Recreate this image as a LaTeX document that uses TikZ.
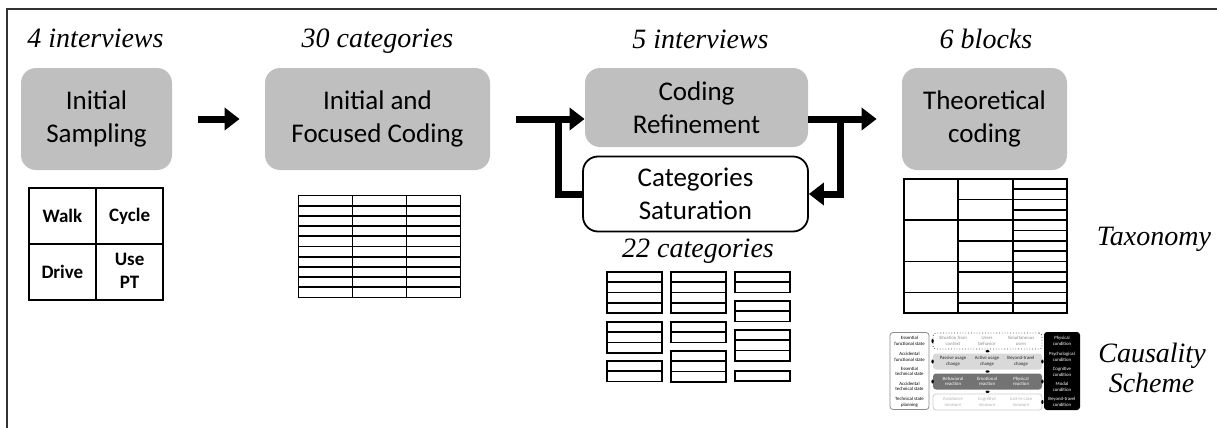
\documentclass[tikz,border=0pt]{standalone}
\usepackage{fontspec}
\setmainfont{Carlito}
\newfontfamily\serifcap{Liberation Serif}
\usepackage{tikz}
\usetikzlibrary{matrix,arrows.meta,calc,positioning}
\tikzset{% looks of the process picture
	stage/.style={fill=black!25,rounded corners=7.5pt,minimum width=#1,minimum height=51pt,inner sep=0pt,align=center,font=\fontsize{13.5}{16.5}\selectfont},
	loopbox/.style={draw,line width=0.9pt,rounded corners=7.5pt,minimum width=112.5pt,minimum height=37.5pt,inner sep=0pt,align=center,font=\fontsize{13.5}{16.5}\selectfont},
	caption/.style={anchor=base,inner sep=0pt,font=\serifcap\itshape\fontsize{14}{16.5}\selectfont},
	fat/.style={line width=3.5pt},
	fatarrow/.style={fat,-{Triangle[length=7.5pt,width=11pt]}},
	rule/.style={line width=0.85pt},
	tiny/.style={inner sep=0pt,align=center,font=\fontsize{2.4}{2.8}\selectfont},
	band/.style={rounded corners=1.5pt,minimum width=54.5pt,minimum height=8pt,inner sep=0pt},
	knob/.style={fill=black}
}

\begin{document}
\begin{tikzpicture}[x=0.5pt,y=-0.5pt]
\useasboundingbox (0,0) rectangle (1217,428);
\draw[line width=0.6pt,black!80] (7,428) -- (7,9) -- (1217,9);

% stages
\node[stage=75.5pt] (samp) at (96.5,119) {Initial\\Sampling};
\node[stage=112.5pt] (focus) at (377.5,119) {Initial and\\Focused Coding};
\node[stage=111.5pt,minimum height=39.5pt] (refine) at (696.5,107.5) {Coding\\Refinement};
\node[loopbox] (sat) at (695.5,194) {Categories\\Saturation};
\node[stage=82.5pt] (theo) at (984.5,119) {Theoretical\\coding};

% captions
\node[caption] (c4) at (95.5,47) {4 interviews};
\node[caption] (c30) at (377.5,47) {30 categories};
\node[caption] (c5) at (700.5,48) {5 interviews};
\node[caption] (c6) at (986,48) {6 blocks};
\node[caption] (c22) at (698,257) {22 categories};
\node[caption] (tax) at (1154,245) {Taxonomy};
\node[caption] (caus) at (1152,362) {Causality};
\node[caption] (sch) at (1151.5,392) {Scheme};

% flow
\coordinate (fork) at (558,119);
\coordinate (join) at (840,119);
\draw[fatarrow,shorten <=13pt,shorten >=12.5pt] (samp) -- (focus);
\draw[fatarrow,shorten <=13pt] (focus.east) -- (focus.east -| refine.west);
\draw[fat] (sat.west) -| (fork);
\draw[fatarrow,shorten >=12.5pt] (refine.east |- theo.west) -- (theo.west);
\draw[fatarrow] (join) |- (sat.east);

% modes table
\matrix (modes) [matrix of nodes,ampersand replacement=\&,
nodes={draw,anchor=center,line width=0.85pt,minimum width=33.6pt,minimum height=28.1pt,inner sep=0pt,font=\bfseries\fontsize{9.5}{11.5}\selectfont},
column sep=-0.85pt,row sep=-0.85pt] at (96,244) {
	Walk \& Cycle\\
	Drive \& {\begin{tabular}{@{}c@{}}Use\\PT\end{tabular}}\\
};

% codes table
\matrix (codes) [matrix of nodes,ampersand replacement=\&,nodes in empty cells,
nodes={draw,anchor=center,line width=0.85pt,minimum width=27pt,minimum height=5.1pt,inner sep=0pt},
column sep=-0.85pt,row sep=-0.85pt] at (379.5,246.5) {
	\& \& \\
	\& \& \\
	\& \& \\
	\& \& \\
	\& \& \\
	\& \& \\
	\& \& \\
	\& \& \\
	\& \& \\
	\& \& \\
};

% saturated categories
\foreach \x/\y/\n in {607/272/4,607/322/3,607/361/2,671/272/4,671/322/2,671/351/3,735/272/2,735/301/2,735/330/3,735/371/1}
	\foreach \r in {1,...,\n}
		\draw[rule] (\x,{\y+(\r-1)*10.25}) rectangle ++(55,10.25);

% taxonomy
\draw[rule] (904,179) rectangle (1067,313);
\draw[rule] (958,179) -- (958,313);
\draw[rule] (1013,179) -- (1013,313);
\foreach \k in {1,...,12}
	\draw[rule] (1013,{179+\k*10.3077}) -- (1067,{179+\k*10.3077});
\foreach \k in {2,4,6,8,9,11,12}
	\draw[rule] (958,{179+\k*10.3077}) -- (1013,{179+\k*10.3077});
\foreach \k in {4,8,11}
	\draw[rule] (904,{179+\k*10.3077}) -- (958,{179+\k*10.3077});

% causality scheme
\node[draw=black!45,line width=0.4pt,rounded corners=1.5pt,minimum width=19.5pt,minimum height=38.5pt] (states) at (909.5,371) {};
\node[tiny] (st1) at (909.5,341) {Essential\\functional state};
\node[tiny] (st2) at (909.5,357) {Accidental\\functional state};
\node[tiny] (st3) at (909.5,371.5) {Essential\\technical state};
\node[tiny] (st4) at (909.5,386.5) {Accidental\\technical state};
\node[tiny] (st5) at (909.5,402) {Technical state\\planning};

\node[band,draw=black!70,densely dotted,line width=0.4pt] (ctx) at (987.5,341) {};
\node[band,fill=black!15] (use) at (987.5,361.5) {};
\node[band,fill=black!55] (react) at (987.5,381.5) {};
\node[band,draw=black!20,line width=0.4pt] (meas) at (987.5,402) {};

\node[tiny,black!45] (ctx1) at (953,341) {Situation from\\context};
\node[tiny,black!45] (ctx2) at (987,341) {Users\\behavior};
\node[tiny,black!45] (ctx3) at (1021,341) {Simultaneous\\users};
\node[tiny,black!85] (use1) at (953,361.5) {Passive usage\\change};
\node[tiny,black!85] (use2) at (987,361.5) {Active usage\\change};
\node[tiny,black!85] (use3) at (1021,361.5) {Beyond-travel\\change};
\node[tiny,white] (re1) at (953,381.5) {Behavioral\\reaction};
\node[tiny,white] (re2) at (987,381.5) {Emotional\\reaction};
\node[tiny,white] (re3) at (1021,381.5) {Physical\\reaction};
\node[tiny,black!30] (me1) at (953,402) {Avoidance\\measure};
\node[tiny,black!30] (me2) at (987,402) {Cognitive\\measure};
\node[tiny,black!30] (me3) at (1021,402) {Just-in-case\\measure};

\node[fill=black,rounded corners=1.5pt,minimum width=18pt,minimum height=39pt] (conds) at (1062,371) {};
\node[tiny,white] (co1) at (1062,341) {Physical\\condition};
\node[tiny,white] (co2) at (1062,357) {Psychological\\condition};
\node[tiny,white] (co3) at (1062,372) {Cognitive\\condition};
\node[tiny,white] (co4) at (1062,387) {Modal\\condition};
\node[tiny,white] (co5) at (1062,402) {Beyond-travel\\condition};

\fill[knob] (ctx.west) ellipse [x radius=0.6pt,y radius=1pt];
\fill[knob] (use.west) ellipse [x radius=0.6pt,y radius=1pt];
\fill[knob] (react.west) ellipse [x radius=0.6pt,y radius=1pt];
\fill[knob] (use.east) ellipse [x radius=0.6pt,y radius=1pt];
\fill[knob] (react.east) ellipse [x radius=0.6pt,y radius=1pt];
\fill[knob] (meas.east) ellipse [x radius=0.6pt,y radius=1pt];
\fill[knob] ($(ctx.south)!0.5!(use.north)$) ellipse [x radius=1pt,y radius=0.6pt];
\fill[knob] ($(use.south)!0.5!(react.north)$) ellipse [x radius=1pt,y radius=0.6pt];
\fill[knob] ($(react.south)!0.5!(meas.north)$) ellipse [x radius=1pt,y radius=0.6pt];
\end{tikzpicture}
\end{document}
